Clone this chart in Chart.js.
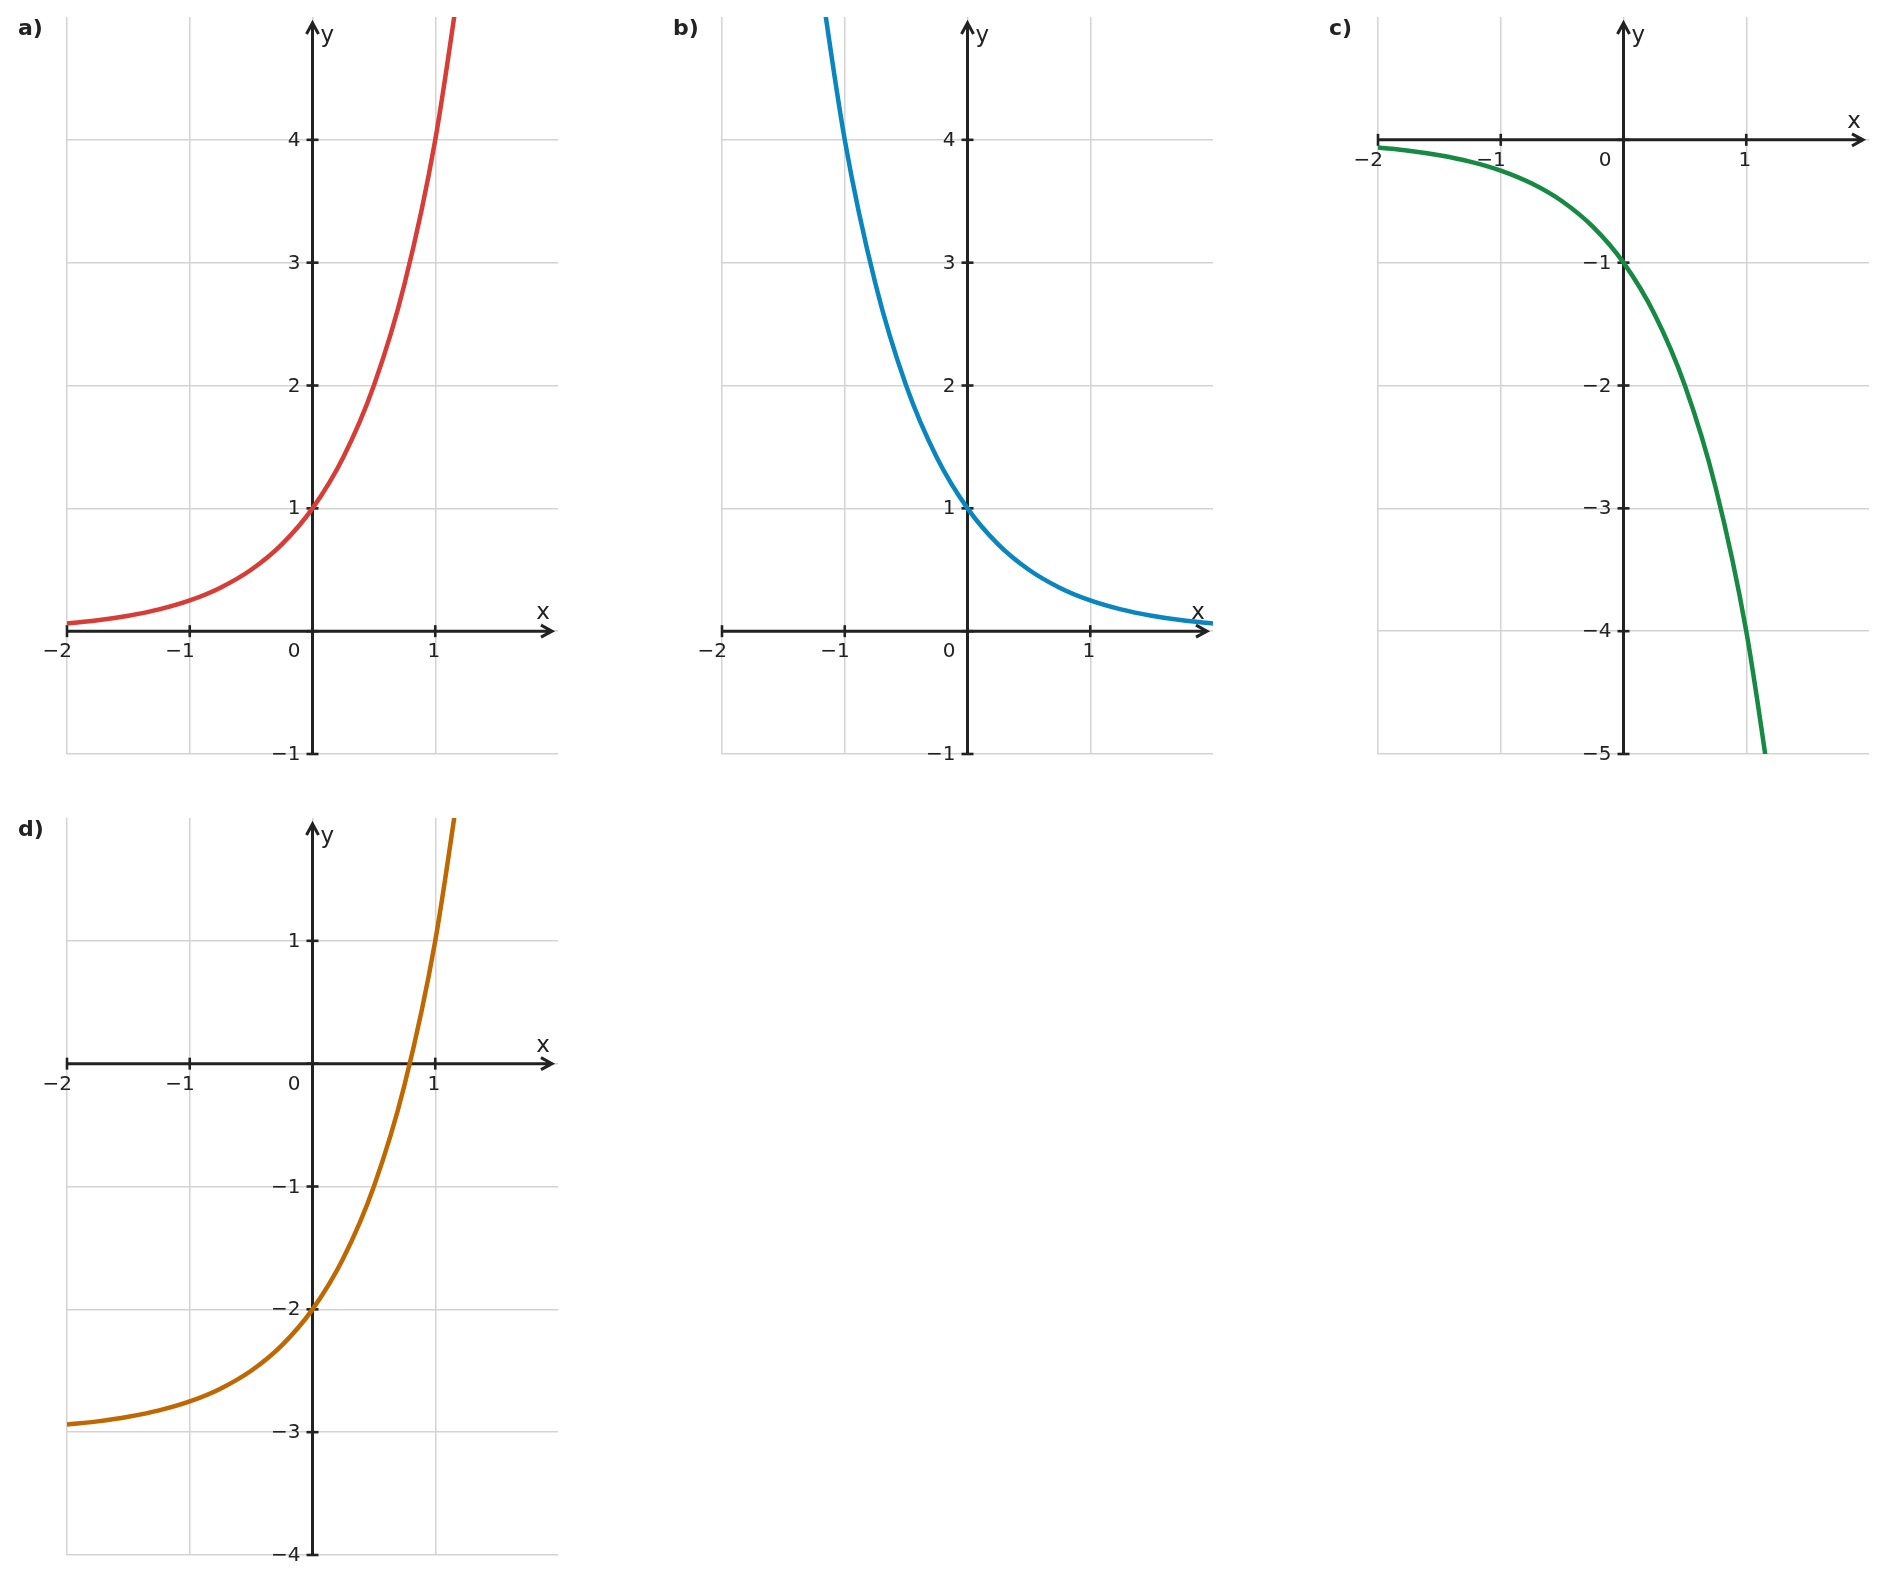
<!DOCTYPE html>
<html>
<head>
<meta charset="utf-8">
<script src="https://cdn.jsdelivr.net/npm/chart.js@4.4.1/dist/chart.umd.min.js"></script>
<style>
  body { margin: 0; background: #fff; width: 1887px; height: 1584px; position: relative; overflow: hidden; }
  canvas { position: absolute; }
</style>
</head>
<body>
<canvas id="chartA" width="640" height="790" style="left:0;top:0"></canvas>
<canvas id="chartB" width="640" height="790" style="left:655px;top:0"></canvas>
<canvas id="chartC" width="640" height="790" style="left:1311px;top:0"></canvas>
<canvas id="chartD" width="640" height="790" style="left:0;top:801px"></canvas>
<script>
// values (x in steps of 0.25)
const xLeft  = [-2, -1.75, -1.5, -1.25, -1, -0.75, -0.5, -0.25, 0, 0.25, 0.5, 0.75, 1, 1.25];
const xRight = [-1.25, -1, -0.75, -0.5, -0.25, 0, 0.25, 0.5, 0.75, 1, 1.25, 1.5, 1.75, 2];
const yA = [0.063, 0.088, 0.125, 0.177, 0.25, 0.354, 0.5, 0.707, 1, 1.414, 2, 2.828, 4, 5.657];
const yB = [5.657, 4, 2.828, 2, 1.414, 1, 0.707, 0.5, 0.354, 0.25, 0.177, 0.125, 0.088, 0.063];
const yC = [-0.063, -0.088, -0.125, -0.177, -0.25, -0.354, -0.5, -0.707, -1, -1.414, -2, -2.828, -4, -5.657];
const yD = [-2.938, -2.912, -2.875, -2.823, -2.75, -2.646, -2.5, -2.293, -2, -1.586, -1, -0.172, 1, 2.657];

const panelTags = ['a)', 'b)', 'c)', 'd)'];
const xRange = [-2, 2];
const yRanges = [[-1, 5], [-1, 5], [-5, 1], [-4, 2]];
const colors = ['#d83c36', '#0985bf', '#168a43', '#bf6802'];

const INK = '#222';
const FONT = "'DejaVu Sans', sans-serif";

function tickText(v) {
  return v < 0 ? '\u2212' + Math.abs(v) : String(v);
}

// axes through the origin, arrows, ticks and labels
const centerAxes = {
  id: 'centerAxes',
  beforeDatasetsDraw(chart, args, opts) {
    const ctx = chart.ctx;
    const a = chart.chartArea;
    const sx = chart.scales.x, sy = chart.scales.y;
    const x0 = sx.getPixelForValue(0), y0 = sy.getPixelForValue(0);
    ctx.save();
    ctx.strokeStyle = INK;
    ctx.fillStyle = INK;
    ctx.lineWidth = 3;

    // x axis
    const tipX = a.right - 6;
    ctx.beginPath();
    ctx.moveTo(a.left, y0); ctx.lineTo(tipX, y0);
    ctx.moveTo(tipX - 11, y0 - 6); ctx.lineTo(tipX, y0); ctx.lineTo(tipX - 11, y0 + 6);
    ctx.stroke();
    // y axis
    const tipY = a.top + 6;
    ctx.beginPath();
    ctx.moveTo(x0, a.bottom); ctx.lineTo(x0, tipY);
    ctx.moveTo(x0 - 6, tipY + 11); ctx.lineTo(x0, tipY); ctx.lineTo(x0 + 6, tipY + 11);
    ctx.stroke();

    ctx.lineWidth = 2.6;
    ctx.font = '20px ' + FONT;
    ctx.textBaseline = 'alphabetic';
    sx.ticks.forEach(t => {
      if (t.value >= sx.max) return;
      const px = sx.getPixelForValue(t.value);
      ctx.beginPath(); ctx.moveTo(px, y0 - 6); ctx.lineTo(px, y0 + 6); ctx.stroke();
      ctx.textAlign = 'right';
      if (t.value === 0) {
        ctx.fillText('0', x0 - 12, y0 + 26);
      } else {
        ctx.fillText(tickText(t.value), px + 5, y0 + 26);
      }
    });
    sy.ticks.forEach(t => {
      if (t.value >= sy.max) return;
      const py = sy.getPixelForValue(t.value);
      ctx.beginPath(); ctx.moveTo(x0 - 6, py); ctx.lineTo(x0 + 6, py); ctx.stroke();
      if (t.value !== 0) {
        ctx.textAlign = 'right';
        ctx.fillText(tickText(t.value), x0 - 12, py + 6);
      }
    });

    ctx.font = '23px ' + FONT;
    ctx.textAlign = 'center';
    ctx.fillText('x', a.right - 15, y0 - 12);
    ctx.textAlign = 'left';
    ctx.fillText('y', x0 + 8, a.top + 25);

    ctx.font = 'bold 22px ' + FONT;
    ctx.textAlign = 'left';
    ctx.textBaseline = 'middle';
    ctx.fillText(opts.tag, 18, 29);
    ctx.restore();
  }
};

function makePanel(id, idx, xs, ys) {
  const [ymin, ymax] = yRanges[idx];
  const gridColor = max => c => (c.tick && c.tick.value >= max) ? 'rgba(0,0,0,0)' : '#d3d3d3';
  new Chart(document.getElementById(id), {
    type: 'line',
    data: {
      datasets: [{
        data: xs.map((x, i) => ({ x: x, y: ys[i] })),
        borderColor: colors[idx],
        borderWidth: 4.5,
        pointRadius: 0,
        fill: false,
        cubicInterpolationMode: 'monotone',
        clip: 0
      }]
    },
    options: {
      responsive: false,
      animation: false,
      events: [],
      layout: { padding: { left: 67, top: 17, right: 82, bottom: 36 } },
      plugins: { legend: { display: false }, tooltip: { enabled: false }, centerAxes: { tag: panelTags[idx] } },
      scales: {
        x: {
          type: 'linear', min: xRange[0], max: xRange[1],
          ticks: { stepSize: 1, display: false },
          grid: { color: gridColor(xRange[1]), lineWidth: 1.5, drawTicks: false },
          border: { display: false }
        },
        y: {
          type: 'linear', min: ymin, max: ymax,
          ticks: { stepSize: 1, display: false },
          grid: { color: gridColor(ymax), lineWidth: 1.5, drawTicks: false },
          border: { display: false }
        }
      }
    },
    plugins: [centerAxes]
  });
}

makePanel('chartA', 0, xLeft, yA);
makePanel('chartB', 1, xRight, yB);
makePanel('chartC', 2, xLeft, yC);
makePanel('chartD', 3, xLeft, yD);
</script>
</body>
</html>
